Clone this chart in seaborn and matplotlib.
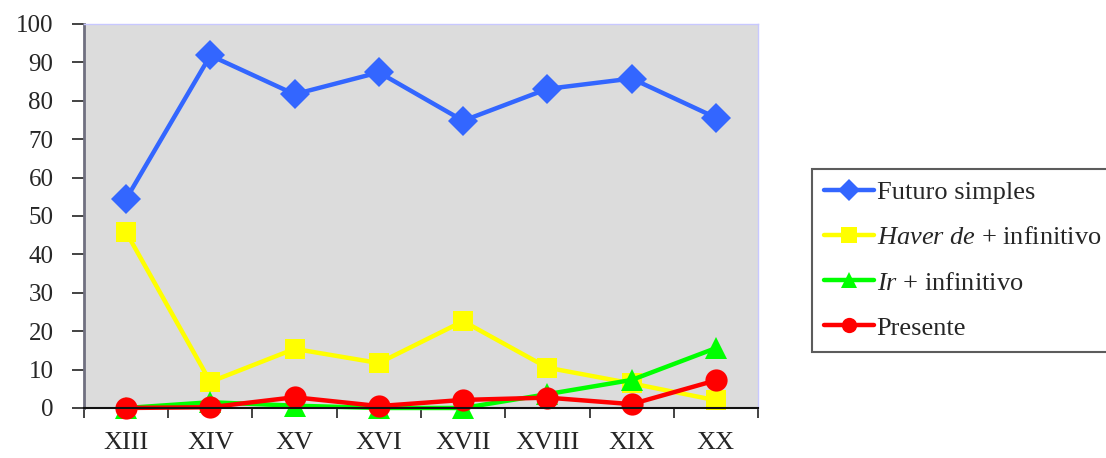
import matplotlib
matplotlib.use("Agg")
import matplotlib.pyplot as plt
import seaborn as sns
import pandas as pd
import numpy as np

# Centuries on the x axis
centuries = ["XIII", "XIV", "XV", "XVI", "XVII", "XVIII", "XIX", "XX"]

# Percentages of each future-expression form per century
futuro_simples = [54.4, 91.8, 81.7, 87.4, 74.8, 83.1, 85.8, 75.6]
haver_de = [45.8, 6.8, 15.4, 11.7, 22.6, 10.5, 6.4, 2.0]
ir_infinitivo = [0.0, 1.5, 0.6, 0.0, 0.0, 3.6, 7.3, 15.6]
presente = [0.0, 0.2, 2.8, 0.5, 2.1, 2.7, 1.0, 7.2]

series_labels = [
    "Futuro simples",
    r"$\mathit{Haver\ de}$ + infinitivo",
    r"$\mathit{Ir}$ + infinitivo",
    "Presente",
]
y_ticks = [0, 10, 20, 30, 40, 50, 60, 70, 80, 90, 100]

sns.set_theme(style="white")
plt.rcParams["font.family"] = ["Liberation Serif", "DejaVu Serif"]
plt.rcParams["mathtext.fontset"] = "custom"
plt.rcParams["mathtext.rm"] = "Liberation Serif"
plt.rcParams["mathtext.it"] = "Liberation Serif:italic"

fig = plt.figure(figsize=(11.06, 4.58), dpi=100)
ax = fig.add_axes([0.0759, 0.1092, 0.6095, 0.8384])
ax.set_facecolor("#dcdcdc")

pos = np.arange(len(centuries))
styles = [
    (futuro_simples, "#3366ff", "D", 15),
    (haver_de, "#ffff00", "s", 15),
    (ir_infinitivo, "#00ff00", "^", 16),
    (presente, "#ff0000", "o", 16),
]
for (vals, color, marker, ms), label in zip(styles, series_labels):
    df = pd.DataFrame({"pos": pos, "val": vals})
    sns.lineplot(data=df, x="pos", y="val", ax=ax, color=color, marker=marker,
                 markersize=ms, markeredgewidth=0, linewidth=3.2, label=label,
                 clip_on=False)

ax.set_xlim(-0.5, len(centuries) - 0.5)
ax.set_ylim(0, 100)
ax.set_xlabel("")
ax.set_ylabel("")

# Category labels centred, tick marks on category boundaries
ax.set_xticks(pos)
ax.set_xticklabels(centuries, fontsize=19)
ax.tick_params(axis="x", which="major", length=0, pad=17)
ax.set_xticks(np.arange(-0.5, len(centuries)), minor=True)
ax.tick_params(axis="x", which="minor", length=7, width=1.2, color="#222222",
               direction="out", bottom=True)

ax.set_yticks(y_ticks)
ax.set_yticklabels([str(v) for v in y_ticks], fontsize=18)
ax.tick_params(axis="y", length=9, width=1.2, color="#222222", direction="out",
               left=True, pad=13)

for side in ["top", "right"]:
    ax.spines[side].set_color("#c8c8ff")
    ax.spines[side].set_linewidth(1)
ax.spines["left"].set_color("#707080")
ax.spines["left"].set_linewidth(2)
ax.spines["bottom"].set_color("#111111")
ax.spines["bottom"].set_linewidth(1.5)

leg = ax.legend(loc="upper left", bbox_to_anchor=(812 / 1106, 1 - 169 / 458),
                bbox_transform=fig.transFigure, fontsize=19, frameon=True,
                fancybox=False, borderpad=0.45, labelspacing=0.82,
                handlelength=1.9, handletextpad=0.1, borderaxespad=0)
leg.get_frame().set_edgecolor("#333333")
leg.get_frame().set_linewidth(1.5)
for h in leg.legend_handles:
    h.set_markersize(11)

fig.savefig("out.png", dpi=100)
